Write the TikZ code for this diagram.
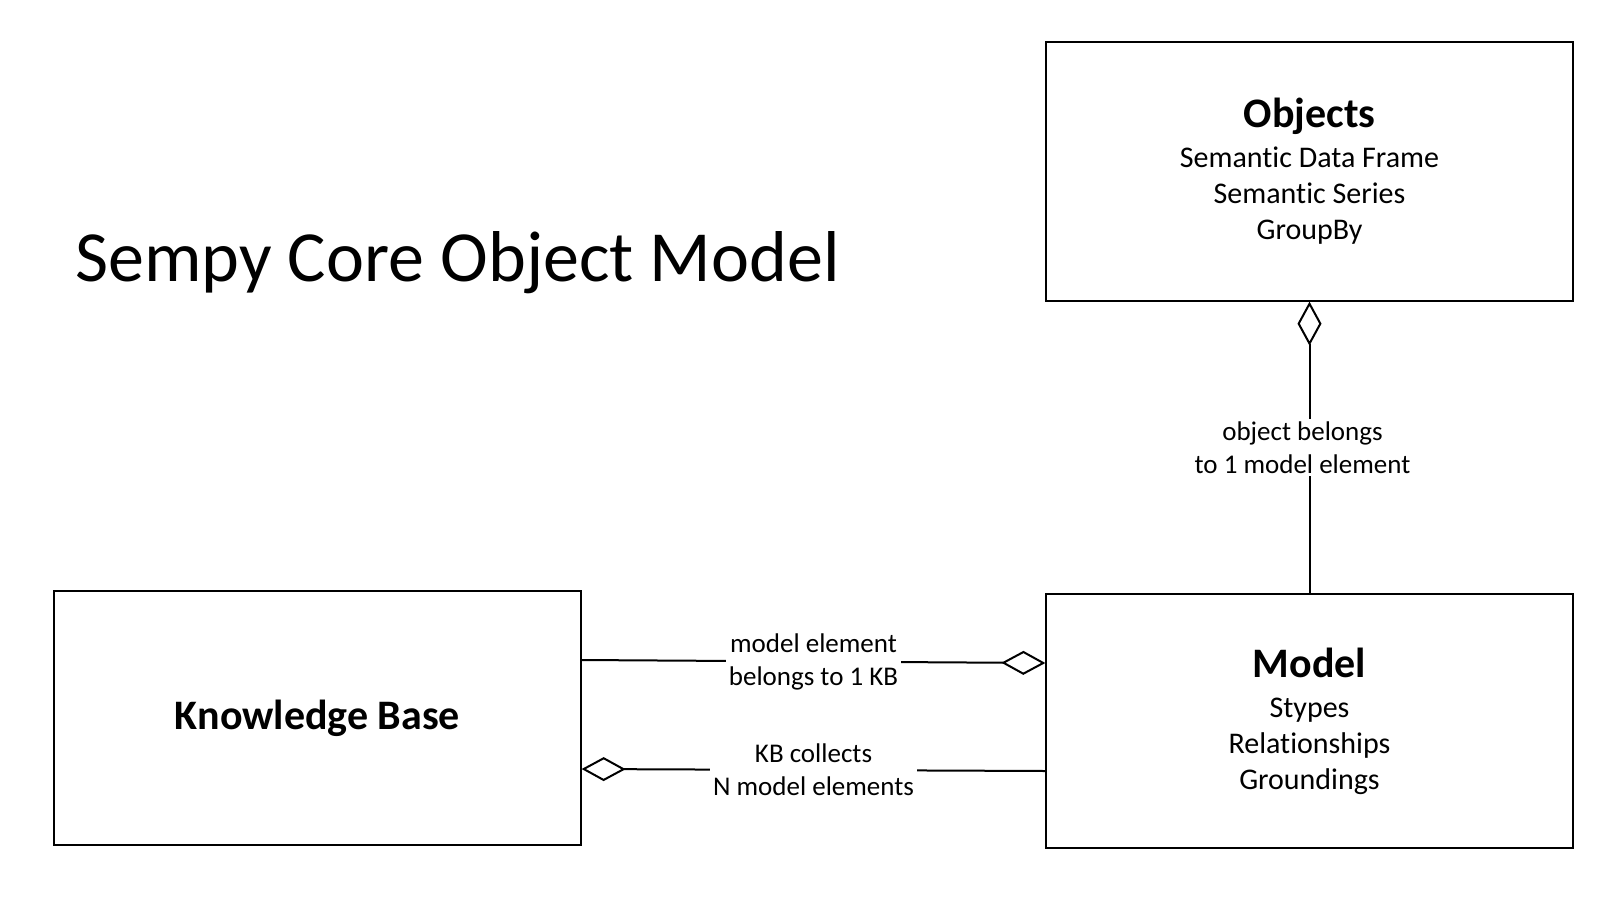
\documentclass[tikz,border=0pt]{standalone}
\usepackage{fontspec}
\setmainfont{Carlito}[Ligatures=CommonOff]
\usepackage{tikz}
\usetikzlibrary{arrows.meta,positioning}

\begin{document}
\begin{tikzpicture}[x=1pt,y=-1pt,
						box/.style={draw, line width=1.3pt, minimum width=527pt, align=center, font=\fontsize{30}{36}\selectfont},
						agg/.style={-{Diamond[open,length=44pt,width=24pt]}, line width=2pt},
						lbl/.style={fill=white, inner sep=3pt, align=center, font=\fontsize{27}{33}\selectfont}]

						\useasboundingbox (0,0) rectangle (1617,900);

						%%% Title
						\node [anchor=base west, inner sep=0pt, font=\fontsize{72}{80}\selectfont] (title) at (75,281) {Sempy Core Object Model};

						%%% Boxes
						\node [box, minimum height=259pt] (objects) at (1309.5,171.5)
							{{\fontsize{42}{44}\selectfont\bfseries Objects}\\[4pt] Semantic Data Frame\\ Semantic Series\\ GroupBy};
						\node [box, minimum height=254pt] (model) at (1309.5,721)
							{{\fontsize{42}{44}\selectfont\bfseries Model}\\[4pt] Stypes\\ Relationships\\ Groundings};
						\node [box, minimum height=254pt] (kb) at (317.5,718)
							{\fontsize{42}{44}\selectfont\bfseries Knowledge Base};

						%%% Connections
						\draw [agg] (model) -- node[lbl, xshift=-7pt] {object belongs\\to 1 model element} (objects);
						\draw [agg] ([yshift=58pt]kb.east) -- node[lbl] {model element\\belongs to 1 KB} ([yshift=58pt]model.west);
						\draw [agg] ([yshift=-50pt]model.west) -- node[lbl] {KB collects\\N model elements} ([yshift=-51pt]kb.east);
					\end{tikzpicture}
\end{document}
